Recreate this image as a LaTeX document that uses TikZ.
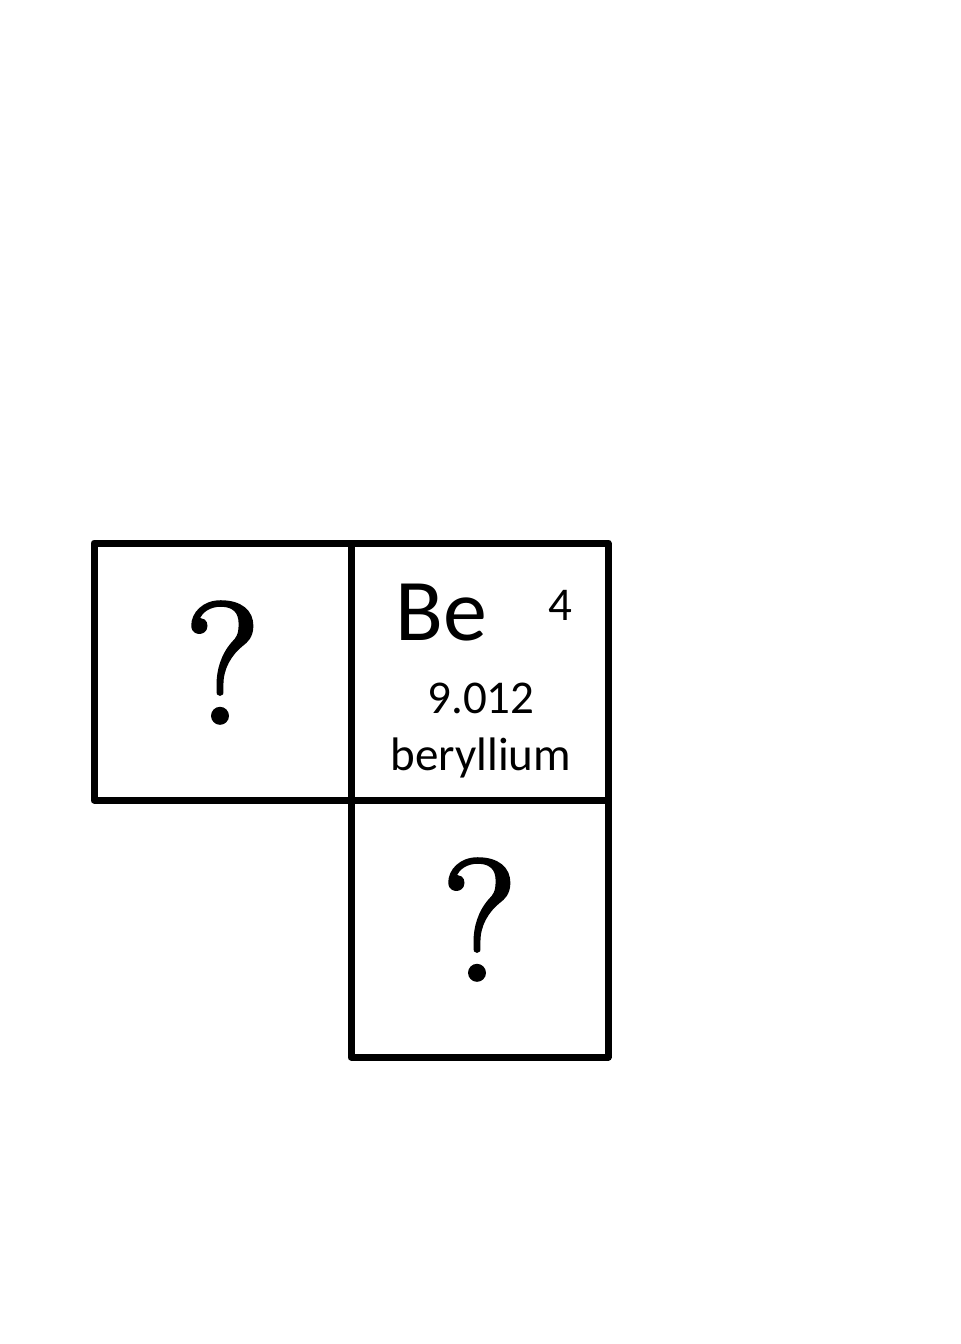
\documentclass[tikz,border=0pt]{standalone}
\usepackage{fontspec}
\newfontfamily\elfont{Carlito}
\newfontfamily\qfont[FakeBold=2.2]{Latin Modern Roman}
\usetikzlibrary{positioning}
\begin{document}
\begin{tikzpicture}[x=0.5pt, y=-0.5pt,
    cell/.style={draw, line width=3.5pt, line join=round, minimum size=128.5pt, inner sep=0pt, outer sep=0pt},
    qmark/.style={font=\qfont\fontsize{86}{86}\selectfont, inner sep=0pt},
    eltext/.style={font=\elfont\fontsize{#1}{#1}\selectfont, inner sep=0pt, anchor=base}]
    \useasboundingbox (0,0) rectangle (960,1344);
    % the three cells
    \node[cell] (be) at (479.5,671.5) {};
    \node[cell, left=0pt of be] (li) {};
    \node[cell, below=0pt of be] (mg) {};
    \node[qmark] (qli) at ([yshift=4.5pt]li.center) {?};
    \node[qmark] (qmg) at ([yshift=4.5pt]mg.center) {?};
    % beryllium entry
    \node[eltext=44] (sym) at (441,640) {Be};
    \node[eltext=23.5] (num) at (560,620) {4};
    \node[eltext=23.5] (mass) at (481,713) {9.012};
    \node[eltext=23.5] (name) at (481,770) {beryllium};
\end{tikzpicture}
\end{document}
